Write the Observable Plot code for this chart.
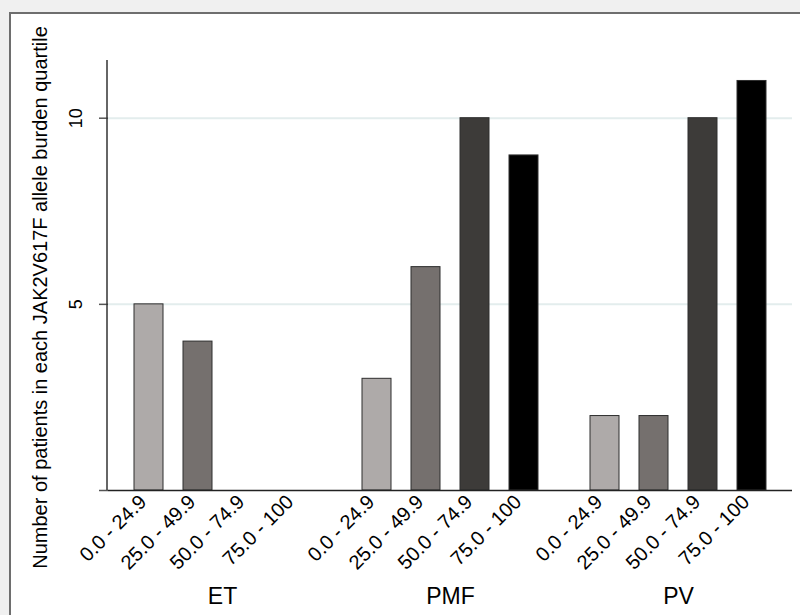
<!DOCTYPE html>
<html><head><meta charset="utf-8">
<script src="https://cdn.jsdelivr.net/npm/d3@7"></script>
<script src="https://cdn.jsdelivr.net/npm/@observablehq/plot@0.6"></script>
<style>
html,body{margin:0;padding:0;background:#f0f0f0;width:800px;height:615px;overflow:hidden}
#panel{position:absolute;left:9px;top:12px;width:820px;height:640px;background:#fff;border-top:2px solid #6e6e6e;border-left:2px solid #6e6e6e}
#chart{position:absolute;left:0;top:0}
</style></head><body>
<div id="panel"></div><div id="chart"></div>
<script>
const groups = ["ET", "PMF", "PV"];
const quartiles = ["0.0 - 24.9", "25.0 - 49.9", "50.0 - 74.9", "75.0 - 100"];
const etCounts = [5, 4, 0, 0];
const pmfCounts = [3, 6, 10, 9];
const pvCounts = [2, 2, 10, 11];
const barColors = ["#aeaaa9", "#75706e", "#3d3b39", "#000000"];
const yTicks = [0, 5, 10];
const yLabel = "Number of patients in each JAK2V617F allele burden quartile";

const series = [etCounts, pmfCounts, pvCounts];
const data = groups.flatMap((g, i) => quartiles.map((q, j) => ({group: g, quartile: q, count: series[i][j]})));

const marginLeft = 107, marginTop = 60;
const plot = Plot.plot({
  width: 800, height: 615,
  marginLeft, marginRight: 7, marginTop, marginBottom: 125,
  style: {background: "transparent", fontFamily: "'Liberation Sans', Arial, sans-serif", color: "#000"},
  fx: {domain: groups, padding: 0, label: null},
  x: {domain: quartiles, paddingInner: 0.4, paddingOuter: 0.52, label: null},
  y: {domain: [0, 11.55], label: null},
  color: {domain: quartiles, range: barColors},
  marks: [
    Plot.gridY(yTicks.slice(1), {stroke: "#e3eded", strokeWidth: 2, strokeOpacity: 1}),
    Plot.barY(data, {fx: "group", x: "quartile", y: "count", fill: "quartile", stroke: "#2e2e2e", strokeWidth: 1}),
    Plot.ruleY([0], {stroke: "#222", strokeWidth: 1.5}),
    Plot.axisY(yTicks, {tickSize: 9, tickRotate: -90, tickPadding: 18, fontSize: 18, tickFormat: d => d === 0 ? "" : d, label: null, stroke: "#555", strokeWidth: 1.5}),
    Plot.axisX({tickSize: 0, tickRotate: -45, tickPadding: 8, dx: -6, fontSize: 20, label: null}),
    Plot.axisFx({anchor: "bottom", tickSize: 0, tickPadding: 97, fontSize: 23, label: null})
  ]
});

const svg = d3.select(plot);
const ys = plot.scale("y");
svg.append("line")
  .attr("x1", marginLeft).attr("x2", marginLeft)
  .attr("y1", ys.apply(0)).attr("y2", ys.apply(ys.domain[1]))
  .attr("stroke", "#333").attr("stroke-width", 1.5);
svg.append("text")
  .attr("transform", `translate(46.5,297.5) rotate(-90)`)
  .attr("text-anchor", "middle")
  .attr("font-size", 20)
  .attr("fill", "#000")
  .text(yLabel);

document.getElementById("chart").appendChild(plot);
</script>
</body></html>
